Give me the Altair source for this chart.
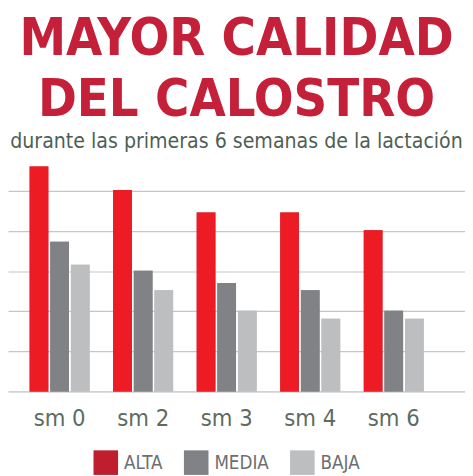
import altair as alt
import pandas as pd

weeks = ["sm 0", "sm 2", "sm 3", "sm 4", "sm 6"]
series = ["ALTA", "MEDIA", "BAJA"]
alta = [5.61, 5.02, 4.46, 4.46, 4.02]
media = [3.73, 3.01, 2.70, 2.52, 2.01]
baja = [3.16, 2.52, 2.01, 1.81, 1.81]

bar_colors = ["#ed1c24", "#808285", "#bcbec0"]
legend_colors = ["#be1e2d", "#808285", "#bcbec0"]

rows = []
for i, w in enumerate(weeks):
    for s, vals in zip(series, [alta, media, baja]):
        rows.append({"semana": w, "serie": s, "valor": vals[i]})
df = pd.DataFrame(rows)

COND = "DejaVu Sans Condensed, DejaVu Sans, sans-serif"

x_enc = alt.X(
    "semana:N",
    sort=weeks,
    scale=alt.Scale(paddingInner=0.2824, paddingOuter=0.3765, align=0.344),
    axis=alt.Axis(
        title=None, labelAngle=0, ticks=False, tickSize=0, domain=True,
        domainColor="#d2d2d2", domainWidth=2,
        labelFont=COND, labelFontSize=24, labelColor="#5d6b62",
        labelPadding=16, grid=False,
    ),
)
xo_enc = alt.XOffset("serie:N", sort=series, scale=alt.Scale(paddingInner=0.095, paddingOuter=0))
y_enc = alt.Y(
    "valor:Q",
    scale=alt.Scale(domain=[0, 5.735], nice=False, zero=True),
    axis=alt.Axis(
        title=None, labels=False, ticks=False, domain=False, grid=True,
        gridColor="#c6c6c6", gridWidth=1.2, values=[1, 2, 3, 4, 5],
    ),
)

legend_layer = alt.Chart(df).mark_bar().encode(
    x=x_enc, xOffset=xo_enc, y=y_enc,
    fill=alt.Fill(
        "serie:N", sort=series,
        scale=alt.Scale(domain=series, range=legend_colors),
        legend=alt.Legend(
            title=None, orient="none", direction="horizontal",
            legendX=87, legendY=294, symbolType="square", symbolSize=625,
            symbolStrokeWidth=0, labelFont=COND, labelFontSize=19,
            labelColor="#6d6e71", labelOffset=6, columnPadding=21, padding=0,
        ),
    ),
)

bars = alt.Chart(df).mark_bar().encode(
    x=x_enc, xOffset=xo_enc, y=y_enc,
    color=alt.Color(
        "serie:N", sort=series,
        scale=alt.Scale(domain=series, range=bar_colors),
        legend=None,
    ),
)

chart = (
    alt.layer(legend_layer, bars)
    .resolve_scale(fill="independent", color="independent")
    .properties(
        width=465,
        height=234,
        autosize=alt.AutoSizeParams(type="none"),
        padding={"left": 0, "top": 152, "right": 0, "bottom": 82},
        title=alt.TitleParams(
            text=["MAYOR CALIDAD", "DEL CALOSTRO"],
            subtitle="durante las primeras 6 semanas de la lactación",
            anchor="middle",
            font=COND, fontSize=53, fontWeight="bold", color="#c4203a",
            lineHeight=62,
            subtitleFont=COND, subtitleFontSize=21.5, subtitleColor="#4f5f55",
            subtitlePadding=5, offset=9,
        ),
    )
    .configure_view(stroke=None)
)

chart.save("out.html", embed_options={"renderer": "svg", "actions": False})
